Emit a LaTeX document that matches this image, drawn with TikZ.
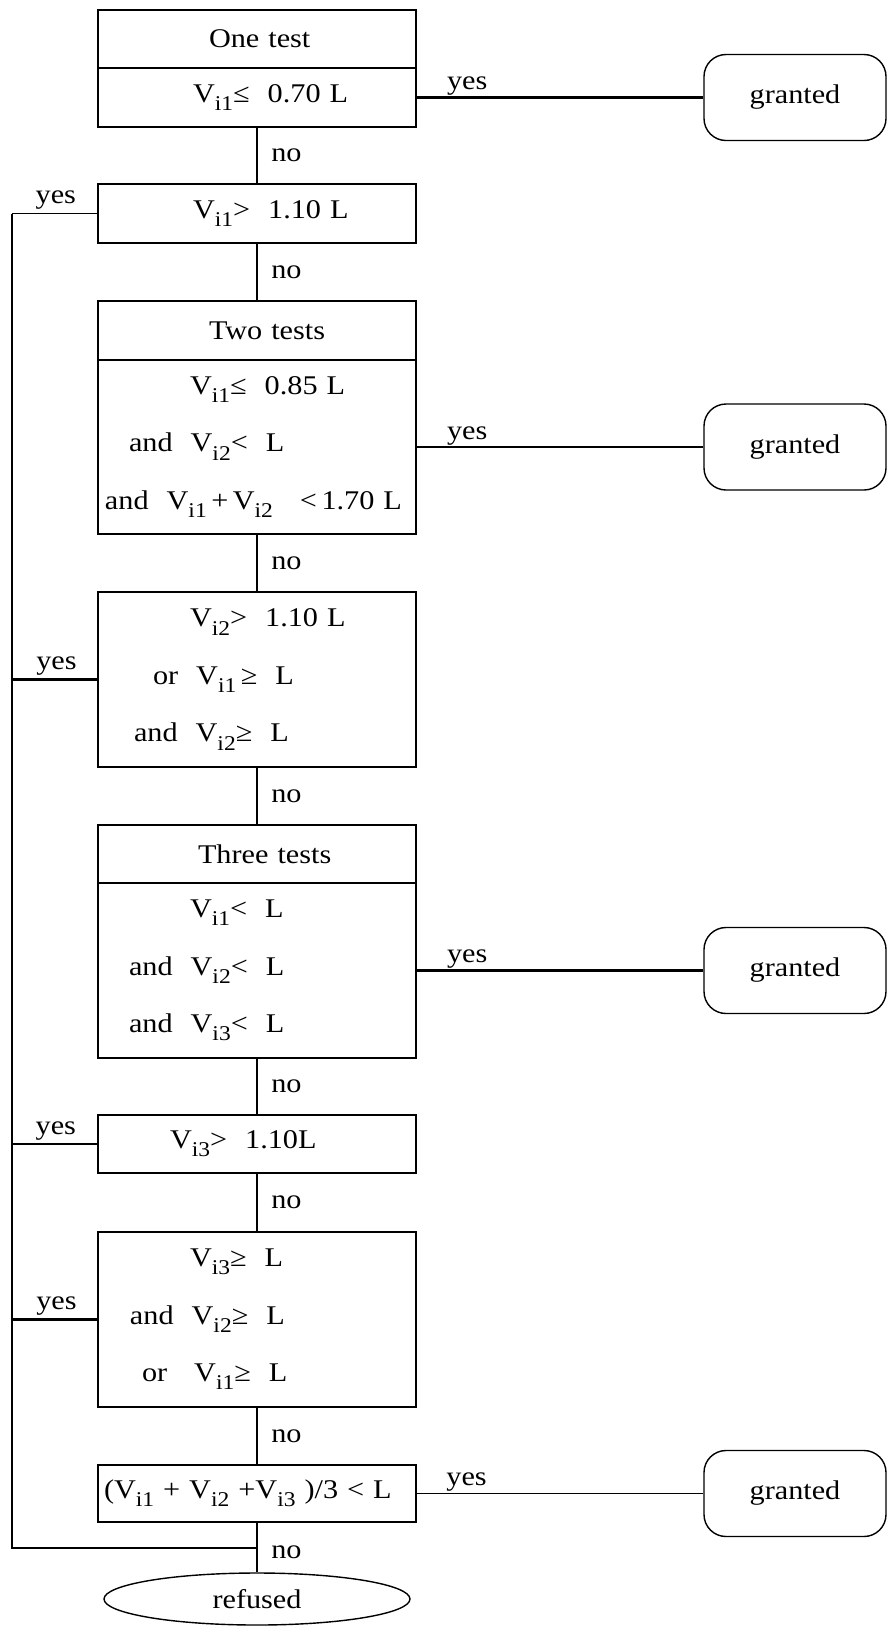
\documentclass[tikz,border=0pt]{standalone}
\usepackage{fontspec}
\newfontfamily\tnr[FakeStretch=1.12]{Liberation Serif}
\usetikzlibrary{shapes.geometric}
\newcommand{\Vs}[1]{V\raisebox{-0.3em}{\fontsize{21}{21}\selectfont i#1}}
\tikzset{
  txt/.style={font=\tnr\fontsize{27}{57.5}\selectfont},
  testbox/.style={draw, txt, line width=1.4pt, text width=318pt, inner sep=0pt, align=left},
  endbox/.style={draw, txt, line width=1.4pt, rounded corners=22pt, minimum width=182pt, minimum height=86pt},
  conn/.style={line width=2.6pt},
  thinconn/.style={line width=1.4pt},
  nolbl/.style={txt, inner sep=0pt, right=13pt},
  yesr/.style={txt, inner sep=0pt, anchor=base west, xshift=29pt, yshift=8pt},
  yesl/.style={txt, inner sep=0pt, anchor=base west, xshift=23pt, yshift=10pt},
}
\begin{document}
\begin{tikzpicture}[x=1pt,y=-1pt]
            \useasboundingbox (0,0) rectangle (888,1626);
            % test boxes
            \node[testbox, minimum height=58pt] (h1) at (257,39) {\hspace*{111pt}One test};
            \node[testbox, minimum height=59pt] (c1) at (257,97.5) {\hspace*{95pt}\Vs{1}≤\ \ 0.70 L};
            \node[testbox, minimum height=59pt] (c2) at (257,213.5) {\hspace*{95pt}\Vs{1}>\ \ 1.10 L};
            \node[testbox, minimum height=59pt] (h3) at (257,330.5) {\hspace*{111pt}Two tests};
            \node[testbox, minimum height=174pt] (c3) at (257,447)
                {\hspace*{92pt}\Vs{1}≤\ \ 0.85 L\\ \hspace*{31pt}and\ \ \Vs{2}<\ \ L\\ \hspace*{7pt}and\ \ \Vs{1}\,+\,\Vs{2}\ \ \ <\,1.70 L};
            \node[testbox, minimum height=175pt] (c4) at (257,679.5)
                {\hspace*{92pt}\Vs{2}>\ \ 1.10 L\\ \hspace*{55pt}or\ \ \Vs{1}\,≥\ \ L\\ \hspace*{36pt}and\ \ \Vs{2}≥\ \ L};
            \node[testbox, minimum height=58pt] (h5) at (257,854) {\hspace*{100pt}Three tests};
            \node[testbox, minimum height=175pt] (c5) at (257,970.5)
                {\hspace*{92pt}\Vs{1}<\ \ L\\ \hspace*{31pt}and\ \ \Vs{2}<\ \ L\\ \hspace*{31pt}and\ \ \Vs{3}<\ \ L};
            \node[testbox, minimum height=58pt] (c6) at (257,1144) {\hspace*{72pt}\Vs{3}>\ \ 1.10L};
            \node[testbox, minimum height=175pt] (c7) at (257,1319.5)
                {\hspace*{92pt}\Vs{3}≥\ \ L\\ \hspace*{32pt}and\ \ \Vs{2}≥\ \ L\\ \hspace*{44pt}or\ \ \ \Vs{1}≥\ \ L};
            \node[testbox, minimum height=57pt] (c8) at (257,1493.5) {\hspace*{6pt}(\Vs{1} + \Vs{2} +\Vs{3} )/3 < L};
            % results
            \node[endbox] (g1) at (795,97.5) {granted};
            \node[endbox] (g2) at (795,447) {granted};
            \node[endbox] (g3) at (795,970.5) {granted};
            \node[endbox] (g4) at (795,1493.5) {granted};
            \node[draw, txt, ellipse, line width=1.4pt, minimum width=306pt, minimum height=52pt] (refused) at (257,1599) {refused};
            % no branches
            \draw[conn] (c1) -- node[nolbl] {no} (c2);
            \draw[conn] (c2) -- node[nolbl] {no} (h3);
            \draw[conn] (c3) -- node[nolbl] {no} (c4);
            \draw[conn] (c4) -- node[nolbl] {no} (h5);
            \draw[conn] (c5) -- node[nolbl] {no} (c6);
            \draw[conn] (c6) -- node[nolbl] {no} (c7);
            \draw[conn] (c7) -- node[nolbl] {no} (c8);
            \draw[conn] (c8) -- node[nolbl, pos=0.6] {no} (refused);
            % yes to granted
            \draw[conn] (c1) -- node[yesr, pos=0] {yes} (g1);
            \draw[conn] (c3) -- node[yesr, pos=0] {yes} (g2);
            \draw[conn] (c5) -- node[yesr, pos=0] {yes} (g3);
            \draw[thinconn] (c8) -- node[yesr, pos=0] {yes} (g4);
            % yes to refused
            \coordinate (bot) at (12,1548);
            \draw[conn] (c2.west -| bot) -- (bot) -- (bot -| c8.south);
            \draw[thinconn] (c2.west) -- (c2.west -| bot) node[yesl] {yes};
            \draw[conn] (c4.west) -- (c4.west -| bot) node[yesl] {yes};
            \draw[thinconn] (c6.west) -- (c6.west -| bot) node[yesl] {yes};
            \draw[conn] (c7.west) -- (c7.west -| bot) node[yesl] {yes};
        \end{tikzpicture}
\end{document}
